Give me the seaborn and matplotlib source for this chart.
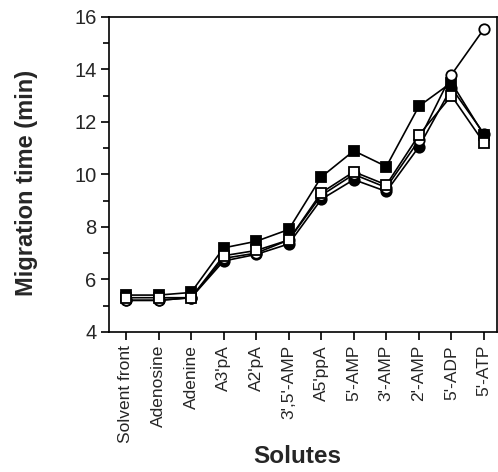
import numpy as np
import pandas as pd
import matplotlib
matplotlib.use('Agg')
import matplotlib.pyplot as plt
import seaborn as sns
from matplotlib.ticker import MultipleLocator

# Data
solutes = ['Solvent front', 'Adenosine', 'Adenine', "A3'pA", "A2'pA", "3',5'-AMP",
           "A5'ppA", "5'-AMP", "3'-AMP", "2'-AMP", "5'-ADP", "5'-ATP"]
filled_square = [5.4, 5.4, 5.5, 7.2, 7.45, 7.9, 9.9, 10.9, 10.3, 12.6, 13.5, 11.5]
filled_circle = [5.2, 5.2, 5.3, 6.7, 6.95, 7.35, 9.05, 9.8, 9.35, 11.05, 13.3, 11.55]
open_circle = [5.2, 5.2, 5.3, 6.8, 7.0, 7.5, 9.2, 10.0, 9.5, 11.3, 13.8, 15.55]
open_square = [5.3, 5.3, 5.3, 6.9, 7.1, 7.5, 9.3, 10.1, 9.6, 11.5, 13.0, 11.2]

# Create the plot
sns.set_theme(style='ticks')
plt.rcParams['font.family'] = ['Liberation Sans', 'DejaVu Sans']
fig = plt.figure(figsize=(4.98, 4.72), dpi=100)
ax = fig.add_axes([0.219, 0.297, 0.779, 0.667])

series = [
    (filled_square, 's', 'black'),
    (filled_circle, 'o', 'black'),
    (open_circle, 'o', 'white'),
    (open_square, 's', 'white'),
]
for vals, marker, face in series:
    df = pd.DataFrame({'solute': solutes, 'time': vals})
    sns.lineplot(data=df, x='solute', y='time', sort=False, ax=ax, color='black',
                 linewidth=1.2, marker=marker, markersize=7.5, markerfacecolor=face,
                 markeredgecolor='black', markeredgewidth=1.3)

# Axes
ax.set_ylim(4, 16)
ax.set_xlim(-0.52, 11.4)
ax.yaxis.set_major_locator(MultipleLocator(2))
ax.yaxis.set_minor_locator(MultipleLocator(1))
ax.tick_params(axis='both', which='major', direction='out', length=6, width=1.2, color='black')
ax.tick_params(axis='y', which='minor', direction='out', length=4, width=1.2, color='black')
ax.tick_params(axis='y', labelsize=14.5, pad=3)
ax.set_xticks(range(len(solutes)))
ax.set_xticklabels(solutes, rotation=90, fontsize=12.5)
for side in ['left', 'right', 'top', 'bottom']:
    ax.spines[side].set_linewidth(1.2)
    ax.spines[side].set_color('black')

ax.set_ylabel('Migration time (min)', fontsize=17, fontweight='bold')
ax.set_xlabel('Solutes', fontsize=17.5, fontweight='bold')
ax.yaxis.set_label_coords(-0.183, 0.473)
ax.xaxis.set_label_coords(0.485, -0.359)

plt.savefig('out.png', dpi=100)
